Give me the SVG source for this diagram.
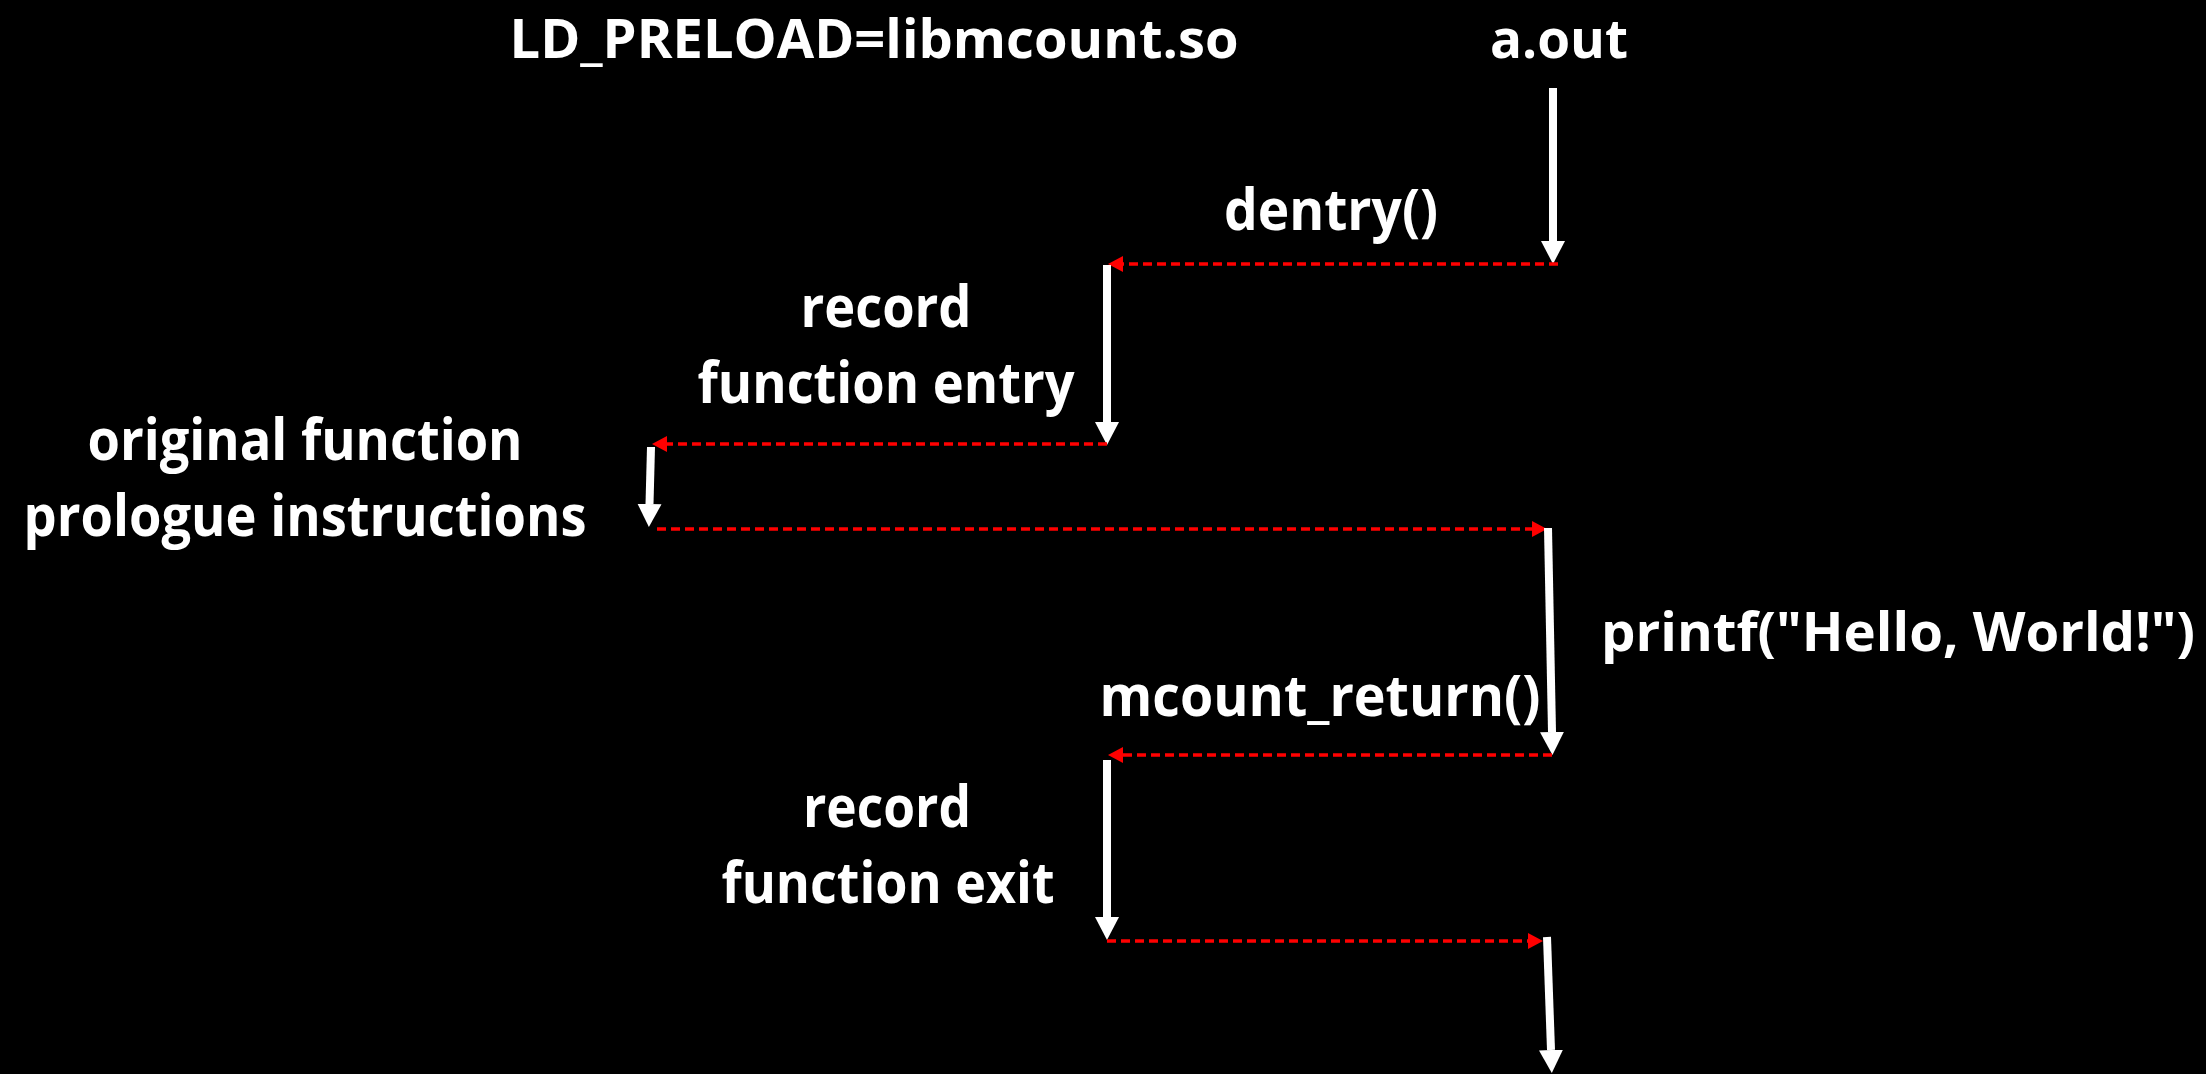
<svg xmlns="http://www.w3.org/2000/svg" width="2206" height="1074" viewBox="0 0 2206 1074">
<defs>
<style>
.t{font-family:"Open Sans","Liberation Sans",sans-serif;font-weight:700;font-size:58px;fill:#fff;text-anchor:middle}
.s{font-size:53px}
.w{stroke:#fff;stroke-width:8;fill:none}
.r{stroke:#f00;stroke-width:3.5;stroke-dasharray:9 5;fill:none}
</style>
<marker id="wh" markerUnits="userSpaceOnUse" markerWidth="24" markerHeight="26" refX="0" refY="12" orient="auto" viewBox="0 0 24 24">
<path d="M0,0 L23,12 L0,24 z" fill="#fff"/>
</marker>
<marker id="rh" markerUnits="userSpaceOnUse" markerWidth="16" markerHeight="16" refX="0" refY="8" orient="auto" viewBox="0 0 16 16">
<path d="M0,0 L15,8 L0,16 z" fill="#f00"/>
</marker>
</defs>
<rect x="0" y="0" width="2206" height="1074" fill="#000"/>
<g id="label-ldpreload"><text class="t s" x="874" y="58" textLength="729" lengthAdjust="spacingAndGlyphs">LD_PRELOAD=libmcount.so</text></g>
<g id="label-aout"><text class="t s" x="1559" y="58" textLength="138" lengthAdjust="spacingAndGlyphs">a.out</text></g>
<g id="label-dentry"><text class="t" x="1331" y="230" textLength="214" lengthAdjust="spacingAndGlyphs">dentry()</text></g>
<g id="label-record-entry">
<text class="t" x="886" y="327" textLength="171" lengthAdjust="spacingAndGlyphs">record</text>
<text class="t" x="886" y="403" textLength="377" lengthAdjust="spacingAndGlyphs">function entry</text>
</g>
<g id="label-prologue">
<text class="t" x="305" y="460" textLength="435" lengthAdjust="spacingAndGlyphs">original function</text>
<text class="t" x="305" y="536" textLength="563" lengthAdjust="spacingAndGlyphs">prologue instructions</text>
</g>
<g id="label-printf"><text class="t s" x="1898" y="651" textLength="594" lengthAdjust="spacingAndGlyphs">printf("Hello, World!")</text></g>
<g id="label-mcount-return"><text class="t" x="1320" y="716" textLength="441" lengthAdjust="spacingAndGlyphs">mcount_return()</text></g>
<g id="label-record-exit">
<text class="t" x="887" y="827" textLength="168" lengthAdjust="spacingAndGlyphs">record</text>
<text class="t" x="888" y="903" textLength="333" lengthAdjust="spacingAndGlyphs">function exit</text>
</g>
<g id="connectors">
<line class="w" x1="1553" y1="88" x2="1553" y2="241" marker-end="url(#wh)"/>
<line class="r" x1="1558" y1="264" x2="1123" y2="264" marker-end="url(#rh)"/>
<line class="w" x1="1107" y1="265" x2="1107" y2="422" marker-end="url(#wh)"/>
<line class="r" x1="1107" y1="444" x2="667" y2="444" marker-end="url(#rh)"/>
<line class="w" x1="651" y1="447" x2="649.5" y2="504" marker-end="url(#wh)"/>
<line class="r" x1="657" y1="529" x2="1532" y2="529" marker-end="url(#rh)"/>
<line class="w" x1="1548" y1="528" x2="1552" y2="732" marker-end="url(#wh)"/>
<line class="r" x1="1552" y1="755" x2="1123" y2="755" marker-end="url(#rh)"/>
<line class="w" x1="1107" y1="760" x2="1107" y2="917" marker-end="url(#wh)"/>
<line class="r" x1="1107" y1="941" x2="1528" y2="941" marker-end="url(#rh)"/>
<line class="w" x1="1547" y1="937" x2="1551" y2="1050" marker-end="url(#wh)"/>
</g>
</svg>
